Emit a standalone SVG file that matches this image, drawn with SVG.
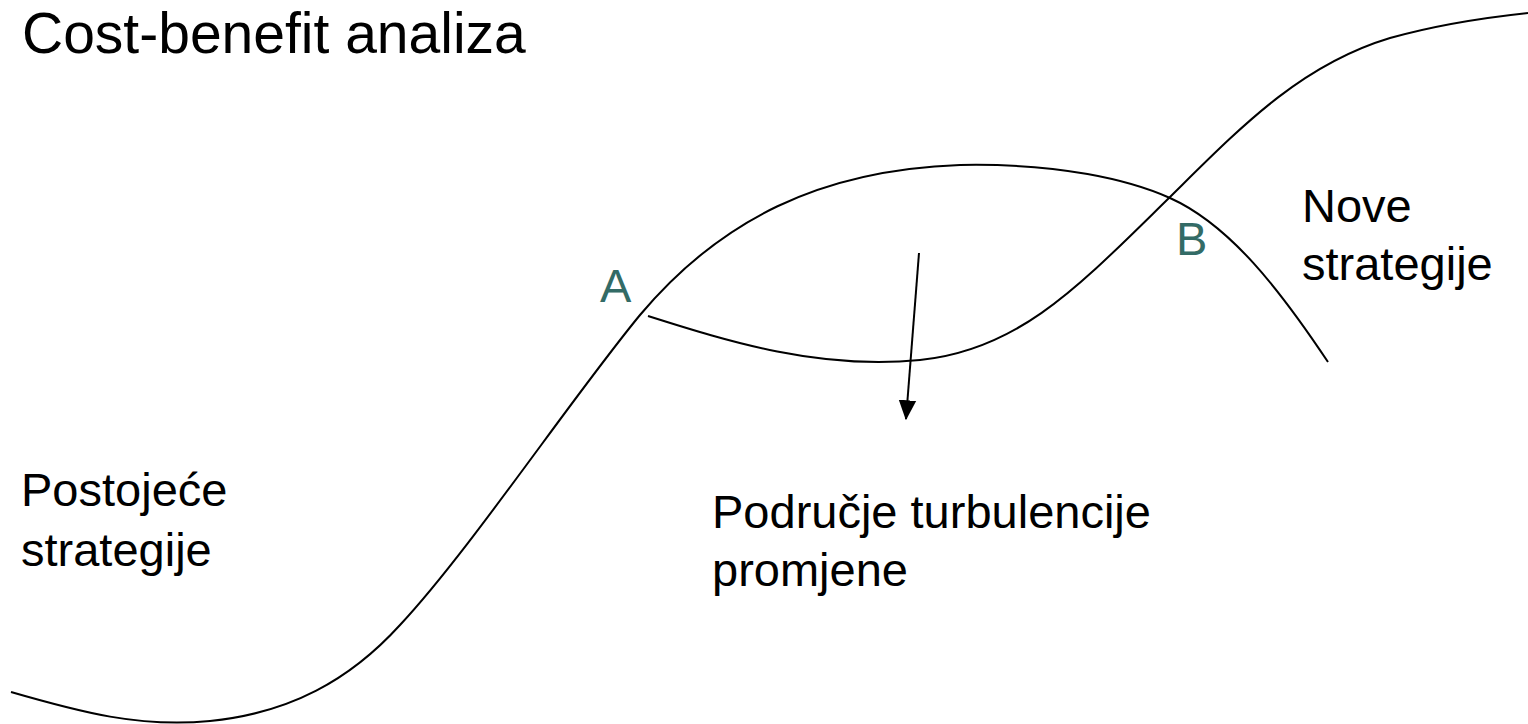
<svg xmlns="http://www.w3.org/2000/svg" width="1528" height="724" viewBox="0 0 1528 724">
<style>
.t{font-family:"Liberation Sans",Arial,sans-serif;fill:#000;}
.pt{font-family:"Liberation Sans",Arial,sans-serif;fill:#336B66;}
.c{fill:none;stroke:#000;stroke-width:2;}
</style>
<defs>
<marker id="ah" markerUnits="userSpaceOnUse" markerWidth="20" markerHeight="20" viewBox="0 0 16 14" refX="15" refY="7" orient="auto">
<path d="M0 0 L16 7 L0 14 Z" fill="#000"/>
</marker>
</defs>
<rect width="1528" height="724" fill="#fff"/>
<g id="title"><text class="t" x="22" y="53" font-size="57">Cost-benefit analiza</text></g>
<g id="curves">
<path id="existing" class="c" d="M 11 692 C 80 712, 140 728, 210 721 C 290 713, 350 680, 400 625 C 470 550, 570 400, 640 315 C 720 220, 820 170, 960 165 C 1060 163, 1130 180, 1170 198 C 1230 225, 1280 290, 1328 362"/>
<path id="new" class="c" d="M 648 316 C 730 342, 820 370, 920 360 C 1020 350, 1080 285, 1170 197 C 1240 128, 1300 65, 1390 38 C 1440 24, 1490 17, 1528 13"/>
</g>
<g id="connectors">
<line class="c" x1="919" y1="253" x2="906" y2="419" marker-end="url(#ah)"/>
</g>
<g id="pointA"><text class="pt" x="600" y="302" font-size="47">A</text></g>
<g id="pointB"><text class="pt" x="1176" y="255" font-size="47">B</text></g>
<g id="nove"><text class="t" x="1302" y="222" font-size="47">Nove</text><text class="t" x="1302" y="280" font-size="47">strategije</text></g>
<g id="postojece"><text class="t" x="21" y="506" font-size="47">Postojeće</text><text class="t" x="21" y="566" font-size="47">strategije</text></g>
<g id="podrucje"><text class="t" x="712" y="528" font-size="47">Područje turbulencije</text><text class="t" x="712" y="586" font-size="47">promjene</text></g>
</svg>
